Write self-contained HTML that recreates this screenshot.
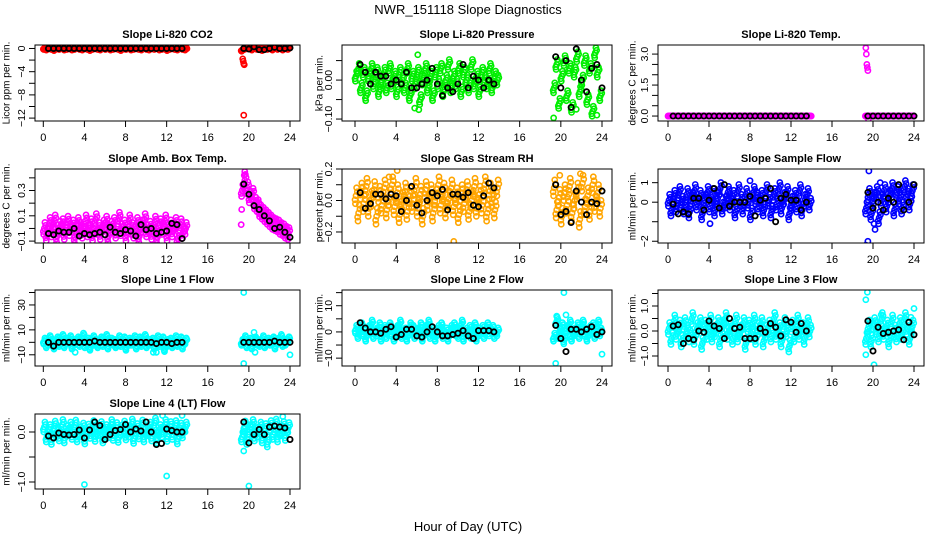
<!DOCTYPE html>
<html><head><meta charset="utf-8"><style>
html,body{margin:0;padding:0;background:#fff}
svg{display:block;font-family:"Liberation Sans",sans-serif}
</style></head><body>
<svg id="chart" width="936" height="540" viewBox="0 0 936 540">
<text x="468" y="14" text-anchor="middle" font-size="13">NWR_151118  Slope Diagnostics</text>
<text x="468" y="531" text-anchor="middle" font-size="13">Hour of Day (UTC)</text>
</svg>
<script>
const cloudHours=[0.1,0.35,0.6,0.85,1.1,1.35,1.6,1.85,2.1,2.35,2.6,2.85,3.1,3.35,3.6,3.85,4.1,4.35,4.6,4.85,5.1,5.35,5.6,5.85,6.1,6.35,6.6,6.85,7.1,7.35,7.6,7.85,8.1,8.35,8.6,8.85,9.1,9.35,9.6,9.85,10.1,10.35,10.6,10.85,11.1,11.35,11.6,11.85,12.1,12.35,12.6,12.85,13.1,13.35,13.6,13.85,19.35,19.6,19.85,20.1,20.35,20.6,20.85,21.1,21.35,21.6,21.85,22.1,22.35,22.6,22.85,23.1,23.35,23.6,23.85];
const blackHours=[0.5,1,1.5,2,2.5,3,3.5,4,4.5,5,5.5,6,6.5,7,7.5,8,8.5,9,9.5,10,10.5,11,11.5,12,12.5,13,13.5,19.5,20,20.5,21,21.5,22,22.5,23,23.5,24];
const xTicks=[0,4,8,12,16,20,24];

const co2Cloud=[0,-0.1,0.1,0,-0.2,0.1,0,0.2,-0.1,0,0.1,-0.1,0,0.2,0,-0.1,0.1,0,-0.2,0,0.1,0,-0.1,0.2,0,0.1,-0.1,0,0.1,0,-0.2,0.1,0,0.2,-0.1,0,0.1,0,-0.1,0.2,0,-0.1,0.1,0,0.2,-0.1,0,0.1,-0.2,0,0.1,0,-0.1,0.2,0,-0.1,-0.3,0,0.1,0.2,-0.1,0.3,0,0.1,-0.2,0.2,0,0.1,-0.1,0.3,0,0.2,-0.1,0.1,0];
const co2Black=[0,0,0,0,0,0,0,0,0,0,0,0,0,0,0,0,0,0,0,0,0,0,0,0,0,0,0,0,-0.1,0.3,-0.2,-0.2,0,0.2,0,0,0.1];
const co2OutX=[19.3,19.4,19.45,19.5,19.55,19.5];
const co2OutY=[-0.4,-1.8,-2.2,-2.6,-2.8,-11.5];

const presCloud=[0.01,0.03,-0.02,0.02,-0.04,0.01,0.03,-0.01,0.02,-0.03,0,0.02,-0.02,0.03,-0.01,0.01,-0.03,0.02,0,-0.02,0.03,-0.04,0.01,-0.01,0.02,-0.05,0,0.03,-0.02,0.01,-0.04,0.02,-0.01,0.03,-0.03,0,0.04,-0.02,0.01,-0.01,0.03,-0.03,0.02,0,-0.02,0.04,-0.01,0.01,-0.03,0.02,0,-0.01,0.03,-0.02,0.01,0,-0.02,0.04,-0.06,0.01,0.05,-0.04,0.03,-0.07,0.02,0.06,-0.03,0,0.05,-0.05,0.03,-0.08,0.07,0.02,-0.04];
const presBlack=[0.04,0.02,-0.01,0.02,0.01,0.01,-0.01,0,-0.01,0.02,-0.02,-0.02,-0.01,0,0.03,-0.01,-0.04,-0.02,-0.03,-0.01,0.04,-0.02,0.01,0,-0.02,0,-0.01,0.06,-0.02,0.05,-0.07,0.08,0,-0.03,0.03,0.04,-0.02];
const presOutX=[6.1,5.8,6.2,19.3,23.5,21.5];
const presOutY=[0.065,-0.072,-0.076,-0.097,-0.09,-0.075];

const tempCloud=[0,0,0,0,0,0,0,0,0,0,0,0,0,0,0,0,0,0,0,0,0,0,0,0,0,0,0,0,0,0,0,0,0,0,0,0,0,0,0,0,0,0,0,0,0,0,0,0,0,0,0,0,0,0,0,0,0,0,0,0,0,0,0,0,0,0,0,0,0,0,0,0,0,0,0];
const tempBlack=[0,0,0,0,0,0,0,0,0,0,0,0,0,0,0,0,0,0,0,0,0,0,0,0,0,0,0,0,0,0,0,0,0,0,0,0,0];
const tempOutX=[19.3,19.35,19.4,19.45,19.5,19.55];
const tempOutY=[3.3,3.0,2.5,2.35,2.2,-0.15];

const ambCloud=[0,-0.05,0.04,-0.02,0.06,-0.06,0.01,0.03,-0.04,0.05,-0.01,0.02,-0.07,0.04,0,-0.03,0.06,-0.02,0.03,-0.05,0.07,0,-0.04,0.02,0.05,-0.06,0.01,0.04,-0.03,0.08,-0.01,0.02,-0.05,0.06,0,-0.03,0.04,-0.06,0.02,0.07,-0.02,0.01,-0.04,0.05,-0.07,0.03,0,0.06,-0.05,0.02,-0.02,0.04,-0.08,0.03,-0.03,0,0.3,0.38,0.32,0.25,0.27,0.2,0.18,0.14,0.12,0.1,0.08,0.06,0.04,0.03,0.02,0,-0.01,-0.03,-0.04];
const ambBlack=[-0.04,-0.05,-0.02,-0.03,-0.03,0,-0.06,-0.04,-0.05,-0.04,-0.03,-0.05,0.01,-0.03,-0.04,-0.01,-0.02,-0.06,0.03,-0.01,0,-0.04,-0.03,-0.02,0.04,0.03,-0.08,0.35,0.27,0.18,0.15,0.1,0.06,0,0.01,-0.03,-0.07];
const ambOutX=[19.3,19.25,19.6,19.55];
const ambOutY=[0.15,0.03,0.45,0.42];

const rhCloud=[0.03,-0.08,0.06,-0.02,0.09,-0.05,0.01,0.07,-0.1,0.04,-0.03,0.08,-0.06,0.02,0.1,-0.04,0.05,-0.09,0,0.06,-0.07,0.03,-0.02,0.09,-0.05,0.04,-0.1,0.07,-0.01,0.05,-0.08,0.02,0.1,-0.03,0.06,-0.06,0.01,0.08,-0.04,0.03,-0.09,0.05,-0.02,0.07,-0.07,0,0.09,-0.05,0.04,-0.03,0.1,-0.08,0.06,0.01,-0.06,0.08,0.08,-0.06,0.02,-0.1,0.05,-0.03,0.09,-0.08,0,0.06,-0.12,0.11,-0.04,0.03,-0.07,0.1,-0.02,0.05,-0.05];
const rhBlack=[0.05,-0.05,-0.02,0.04,0.04,0.01,0.04,0.03,-0.07,0,0.09,-0.03,-0.08,0,0.05,0.03,0.07,-0.06,0.04,0.04,0.02,0.05,-0.03,-0.04,0.03,0.11,0.08,0.1,-0.09,-0.07,-0.14,0.06,-0.01,-0.09,-0.01,-0.02,0.06];
const rhOutX=[4.1,9.6,21.9,3.3,19.9];
const rhOutY=[0.19,-0.26,0.17,0.15,0.16];

const flowCloud=[0.1,-0.4,0.3,-0.2,0.5,0,-0.3,0.4,-0.5,0.2,0.6,-0.1,0.3,-0.6,0.1,0.5,-0.2,0.4,-0.4,0.2,0.7,-0.3,0,0.5,-0.1,0.3,-0.5,0.6,0.1,-0.3,0.4,0,-0.6,0.5,0.2,-0.2,0.3,-0.4,0.6,0.1,-0.5,0.4,-0.1,0.7,-0.3,0.2,0.5,-0.6,0,0.3,-0.2,0.6,-0.4,0.1,0.4,-0.1,-0.3,0.4,-0.6,0.2,0.5,-0.8,0.1,0.6,-0.2,0.3,0.7,-0.4,0.5,0.2,-0.3,0.8,0.4,-0.1,0.6];
const flowBlack=[-0.1,-0.6,-0.5,-0.6,0.2,0.2,-0.4,0.1,0.7,-0.3,0.9,-0.2,0,0,0,0.3,-0.7,0.1,0.2,0.7,-1,0.2,0.4,0.1,0.1,-0.4,0,0.5,-0.3,0,-0.4,0.2,0,0.9,-0.4,0,0.9];
const flowOutX=[19.3,19.5,20.1,20.2,4.1,19.6,20.7,8];
const flowOutY=[-2.2,-2,-1.1,-1.4,-1.1,1.6,1,1.1];

const l1Cloud=[1,-2,3,0,-3,2,-1,4,-2,1,3,-3,0,2,-1,5,-2,1,-4,3,0,-2,2,-1,4,-3,1,0,-2,3,-1,2,-4,1,0,3,-3,2,-1,4,-2,0,1,-3,3,-1,2,-5,0,1,-2,3,-1,2,-3,1,0,3,-2,1,-3,2,0,-1,3,-2,1,0,2,-3,1,4,-1,0,2];
const l1Black=[0,-3,0,0,0,0,0,0,0,1,0,0,0,0,0,0,0,0,0,0,0,-1,0,0,-1,0,0,0,0,0,0,0,0,1,0,0,0];
const l1OutX=[19.5,19.5,20.5,20.6,24,3.1,10.7,11];
const l1OutY=[40,-17,8,-8,-10,-8,-8,-8];

const l2Cloud=[1,-1,2,0,-2,1,3,-1,0,2,-2,1,-1,2,0,-2,1,3,-1,0,-2,2,1,-1,0,2,-2,1,3,-1,0,-2,1,2,-1,0,-2,1,2,0,-1,3,-2,0,1,-1,2,-2,0,1,-1,2,0,1,-1,0,-2,4,-1,2,-3,1,3,-2,0,2,-1,3,0,-2,1,2,-1,3,0];
const l2Black=[3.5,1.5,0,0,-0.5,1,2,-2,-1,1,1,-1.5,-2,0,2,0,-1.5,-1.5,-1,-0.5,0.5,-1.5,-2.5,0.5,0.5,0.5,0,2.5,-2.5,-7.5,1,1,0,1,2,-1,0];
const l2OutX=[19.5,20.3,20.5,19.6,24];
const l2OutY=[-12,15,6.5,6,-8.5];

const l3Cloud=[0.1,-0.3,0.4,-0.1,0.2,-0.4,0.3,0,-0.2,0.5,-0.3,0.1,0.3,-0.5,0.2,-0.1,0.4,-0.2,0,0.3,-0.4,0.2,0.5,-0.1,0.1,-0.3,0.4,-0.2,0,0.3,-0.5,0.2,-0.1,0.4,-0.3,0.1,0.3,-0.4,0,0.2,-0.2,0.5,-0.1,0.1,-0.4,0.3,0,-0.6,0.2,-0.2,0.4,-0.1,0.1,-0.3,0.3,0,-0.3,0.2,-0.4,0.3,0.1,-0.2,0.5,-0.1,0.2,-0.4,0.4,0,-0.2,0.3,-0.1,0.5,0.1,-0.3,0.2];
const l3Black=[0.2,0.25,-0.5,-0.3,-0.35,0,-0.05,0.4,0.2,0.1,-0.3,0.5,0.1,0.15,-0.3,-0.3,-0.3,0.1,-0.05,0.3,0.15,-0.2,0.45,0.35,-0.05,0.3,0,0.4,-0.8,0.15,-0.1,-0.05,0,0.05,-0.35,0.35,-0.15];
const l3OutX=[19.3,19.45,19.3,20.8,24,23.7,20.1];
const l3OutY=[1.25,1.55,-0.95,0.65,0.9,0.55,-1.35];

const l4Cloud=[0.1,-0.1,0.05,-0.15,0.12,0,-0.08,0.15,-0.12,0.03,0.1,-0.05,0.14,-0.1,0,0.08,-0.14,0.06,-0.03,0.13,-0.09,0.02,0.11,-0.12,0.05,-0.02,0.15,-0.07,0.09,-0.11,0.04,0.12,-0.06,0,0.16,-0.13,0.07,-0.04,0.14,-0.1,0.02,0.1,-0.08,0.18,-0.12,0.05,0,0.15,-0.09,0.11,-0.05,0.13,-0.14,0.08,-0.02,0.1,-0.1,0.12,-0.15,0.05,0.15,-0.08,0,0.1,-0.12,0.07,-0.2,0.13,-0.05,0.16,-0.1,0.02,0.11,-0.07,0.09];
const l4Black=[-0.08,-0.12,-0.02,-0.05,-0.06,-0.05,0.04,-0.12,0.04,0.2,0.13,-0.15,-0.05,0.03,0.05,0.15,0,0.06,0.02,0.2,0,-0.25,-0.23,0.06,0.03,0,0,0.2,-0.22,-0.05,0.05,-0.05,0.1,0.12,0.1,0.08,-0.15];
const l4OutX=[4,12,19.5,20,11.6,13.5,23.3];
const l4OutY=[-1.05,-0.88,-0.38,-1.08,0.33,0.33,0.31];

const cols=[{l:35,r:300,x0:43.3,x1:290,tl:7},{l:342,r:612,x0:355,x1:602,tl:320},{l:658,r:924,x0:668,x1:914,tl:633}];
const rows=[{t:45,b:121},{t:169,b:243},{t:290,b:366},{t:414,b:489}];
const panels=[
{id:'co2',title:'Slope Li-820 CO2',yt:'Licor ppm per min.',c:0,r:0,y0:-12.5,y1:0.6,ticks:[0,-2,-4,-6,-8,-10,-12],labs:['0','','\u22124','','\u22128','','\u221212'],col:'#ff0000',cl:co2Cloud,bl:co2Black,ox:co2OutX,oy:co2OutY,band:0.5},
{id:'pressure',title:'Slope Li-820 Pressure',yt:'kPa per min.',c:1,r:0,y0:-0.105,y1:0.09,ticks:[0.05,0,-0.05,-0.1],labs:['','0.00','','\u22120.10'],col:'#00ee00',cl:presCloud,bl:presBlack,ox:presOutX,oy:presOutY,band:2.5},
{id:'temp',title:'Slope Li-820 Temp.',yt:'degrees C per min.',c:2,r:0,y0:-0.24,y1:3.44,ticks:[0,0.5,1,1.5,2,2.5,3],labs:['0.0','','','1.5','','','3.0'],col:'#ff00ff',cl:tempCloud,bl:tempBlack,ox:tempOutX,oy:tempOutY,band:0},
{id:'amb-box-temp',title:'Slope Amb. Box Temp.',yt:'degrees C per min.',c:0,r:1,y0:-0.115,y1:0.47,ticks:[-0.1,0,0.1,0.2,0.3,0.4],labs:['\u22120.1','','0.1','','0.3',''],col:'#ff00ff',cl:ambCloud,bl:ambBlack,ox:ambOutX,oy:ambOutY,band:3},
{id:'gas-rh',title:'Slope Gas Stream RH',yt:'percent per min.',c:1,r:1,y0:-0.27,y1:0.2,ticks:[-0.2,-0.1,0,0.1,0.2],labs:['\u22120.2','','0.0','','0.2'],col:'#ffa500',cl:rhCloud,bl:rhBlack,ox:rhOutX,oy:rhOutY,band:4},
{id:'sample-flow',title:'Slope Sample Flow',yt:'ml/min per min.',c:2,r:1,y0:-2.09,y1:1.7,ticks:[-2,-1,0,1],labs:['\u22122','','0','1'],col:'#0000ff',cl:flowCloud,bl:flowBlack,ox:flowOutX,oy:flowOutY,band:3},
{id:'line1-flow',title:'Slope Line 1 Flow',yt:'ml/min per min.',c:0,r:2,y0:-19,y1:42,ticks:[-10,0,10,20,30,40],labs:['\u221210','','10','','30',''],col:'#00ffff',cl:l1Cloud,bl:l1Black,ox:l1OutX,oy:l1OutY,band:1.5},
{id:'line2-flow',title:'Slope Line 2 Flow',yt:'ml/min per min.',c:1,r:2,y0:-13,y1:16,ticks:[-10,-5,0,5,10,15],labs:['\u221210','','0','','10',''],col:'#00ffff',cl:l2Cloud,bl:l2Black,ox:l2OutX,oy:l2OutY,band:2},
{id:'line3-flow',title:'Slope Line 3 Flow',yt:'ml/min per min.',c:2,r:2,y0:-1.4,y1:1.64,ticks:[-1,-0.5,0,0.5,1,1.5],labs:['\u22121.0','','0.0','','1.0',''],col:'#00ffff',cl:l3Cloud,bl:l3Black,ox:l3OutX,oy:l3OutY,band:3},
{id:'line4-flow',title:'Slope Line 4 (LT) Flow',yt:'ml/min per min.',c:0,r:3,y0:-1.14,y1:0.36,ticks:[-1,-0.5,0],labs:['\u22121.0','','0.0'],col:'#00ffff',cl:l4Cloud,bl:l4Black,ox:l4OutX,oy:l4OutY,band:2.5}
];
const NS='http://www.w3.org/2000/svg';
const svg=document.getElementById('chart');
function mk(tag,parent,attrs){const e=document.createElementNS(NS,tag);for(const k in attrs)e.setAttribute(k,attrs[k]);parent.appendChild(e);return e;}
const spread=[[0,0],[1.3,-1],[-1,1],[0.6,-2],[-0.6,2]];
panels.forEach(p=>{
  const C=cols[p.c],R=rows[p.r];
  const sx=h=>C.x0+(h/24)*(C.x1-C.x0);
  const sy=v=>R.b-(v-p.y0)/(p.y1-p.y0)*(R.b-R.t);
  const g=mk('g',svg,{});
  
  
  const tt=mk('text',g,{x:(C.l+C.r)/2,y:R.t-7,'text-anchor':'middle','font-size':'11','font-weight':'bold'});
  tt.textContent=p.title;
  
  
  const yl=mk('text',g,{x:C.tl,y:(R.t+R.b)/2,'text-anchor':'middle','font-size':'10','dominant-baseline':'middle',transform:'rotate(-90 '+C.tl+' '+(R.t+R.b)/2+')'});
  yl.textContent=p.yt;
  
  
  const clip='clip-'+p.id;
  const cp=mk('clipPath',g,{id:clip});mk('rect',cp,{x:C.l,y:R.t,width:C.r-C.l,height:R.b-R.t});
  const pts=mk('g',g,{'clip-path':'url(#'+clip+')'});
  p.cl.forEach((v,i)=>{if(cloudHours[i]===undefined)return;
    spread.forEach(s=>{
      const c=mk('circle',pts,{cx:sx(cloudHours[i])+s[0],cy:sy(v)+s[1]*p.band,r:2.6,fill:'none',stroke:p.col,'stroke-width':1.6});
      
      
    });
  });
  p.ox.forEach((h,i)=>{
    const c=mk('circle',pts,{cx:sx(h),cy:sy(p.oy[i]),r:2.6,fill:'none',stroke:p.col,'stroke-width':1.6});
    
    
  });
  p.bl.forEach((v,i)=>{if(blackHours[i]===undefined)return;
    const c=mk('circle',pts,{cx:sx(blackHours[i]),cy:sy(v),r:2.6,fill:'none',stroke:'#000','stroke-width':1.8});
    
    
  });
  const box=mk('rect',g,{x:C.l,y:R.t,width:C.r-C.l,height:R.b-R.t,fill:'none',stroke:'#000','stroke-width':1});
  
  
  const xa=mk('g',g,{});
  
  
  xTicks.forEach(t=>{
    mk('line',xa,{x1:sx(t),x2:sx(t),y1:R.b,y2:R.b+6,stroke:'#000'});
    const tx=mk('text',xa,{x:sx(t),y:R.b+20,'text-anchor':'middle','font-size':'11'});tx.textContent=t;
  });
  const ya=mk('g',g,{});
  
  
  p.ticks.forEach((t,i)=>{
    const y=sy(t);
    mk('line',ya,{x1:C.l-6,x2:C.l,y1:y,y2:y,stroke:'#000'});
    if(p.labs[i]){const lx=C.l-13;const tx=mk('text',ya,{x:lx,y:y,'text-anchor':'middle','dominant-baseline':'middle','font-size':'10.5',transform:'rotate(-90 '+lx+' '+y+')'});tx.textContent=p.labs[i];}
  });
});
</script>
</body></html>
